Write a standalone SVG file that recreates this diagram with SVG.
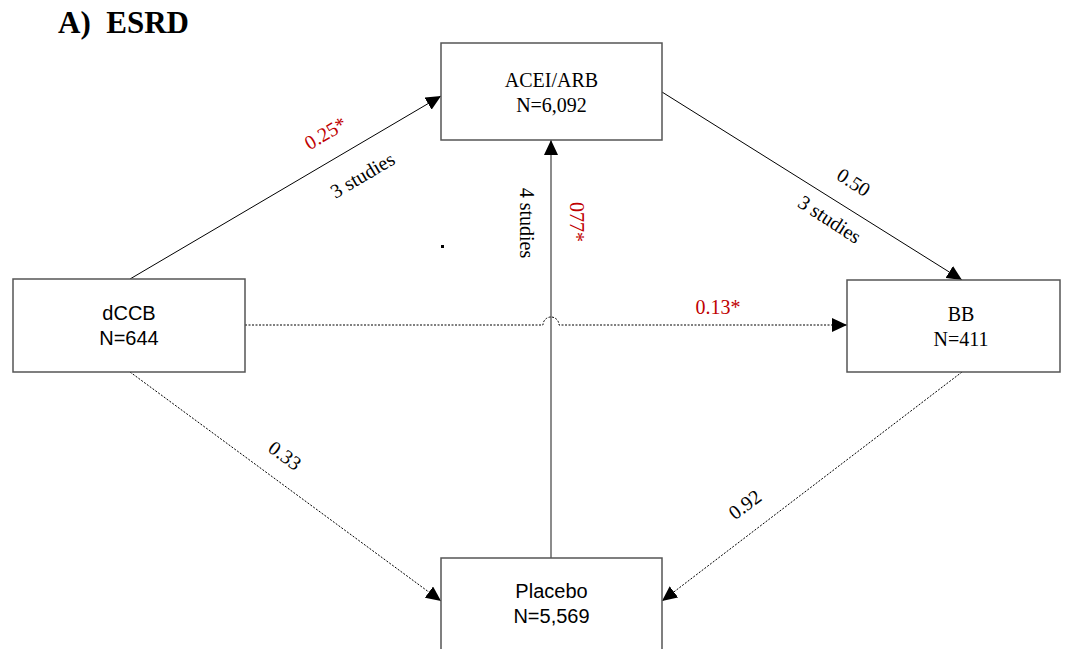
<svg xmlns="http://www.w3.org/2000/svg" width="1072" height="649" viewBox="0 0 1072 649">
<style>
.box{fill:#fff;stroke:#555;stroke-width:1.5}
.t{font-family:"Liberation Serif",serif;font-size:20px;fill:#000}
.a{font-family:"Liberation Sans",sans-serif;font-size:20px;fill:#000}
.red{fill:#c00000}
.ln{fill:none;stroke:#000;stroke-width:1}
.dash{fill:none;stroke:#000;stroke-width:1;stroke-dasharray:2,1.5}
.gray{fill:none;stroke:#666;stroke-width:1.5}
</style>
<defs>
<marker id="ah" markerWidth="16" markerHeight="14" refX="15" refY="7" orient="auto" markerUnits="userSpaceOnUse">
<path d="M0,0 L15,7 L0,14 Z" fill="#000"/>
</marker>
</defs>
<rect width="1072" height="649" fill="#fff"/>
<text x="58" y="33" font-family="Liberation Serif,serif" font-weight="bold" font-size="31" xml:space="preserve">A)  ESRD</text>
<g id="connectors">
<line class="ln" x1="130" y1="279" x2="441" y2="96" marker-end="url(#ah)"/>
<line class="ln" x1="662" y1="92" x2="962" y2="280" marker-end="url(#ah)"/>
<line class="gray" x1="551" y1="558" x2="551" y2="140" marker-end="url(#ah)"/>
<path class="dash" d="M245,325 H543 A8,8 0 0 1 559,325 H847" marker-end="url(#ah)"/>
<line class="dash" x1="130" y1="372" x2="441" y2="601" marker-end="url(#ah)"/>
<line class="dash" x1="962" y1="372" x2="662" y2="601" marker-end="url(#ah)"/>
<rect x="441" y="245" width="3" height="3" fill="#000"/>
<text class="t red" transform="translate(329,139) rotate(-30.5)" text-anchor="middle">0.25*</text>
<text class="t" transform="translate(366,181) rotate(-30.5)" text-anchor="middle">3 studies</text>
<text class="t" transform="translate(850,188) rotate(33)" text-anchor="middle">0.50</text>
<text class="t" transform="translate(826,225) rotate(33)" text-anchor="middle">3 studies</text>
<text class="t" transform="translate(520,223) rotate(90)" text-anchor="middle">4 studies</text>
<text class="t red" transform="translate(570,222) rotate(90)" text-anchor="middle">077*</text>
<text class="t red" x="718" y="314" text-anchor="middle">0.13*</text>
<text class="t" transform="translate(281,461) rotate(36)" text-anchor="middle">0.33</text>
<text class="t" transform="translate(749,510) rotate(-37)" text-anchor="middle">0.92</text>
</g>
<g id="acei">
<rect class="box" x="441" y="43" width="221" height="97"/>
<text class="t" x="551.5" y="87" text-anchor="middle">ACEI/ARB</text>
<text class="t" x="551.5" y="112" text-anchor="middle">N=6,092</text>
</g>
<g id="dccb">
<rect class="box" x="13" y="279" width="232" height="93"/>
<text class="a" x="129" y="320" text-anchor="middle">dCCB</text>
<text class="a" x="129" y="345" text-anchor="middle">N=644</text>
</g>
<g id="bb">
<rect class="box" x="847" y="280" width="213" height="92"/>
<text class="t" x="961" y="321" text-anchor="middle">BB</text>
<text class="t" x="961" y="346" text-anchor="middle">N=411</text>
</g>
<g id="placebo">
<rect class="box" x="441" y="558" width="221" height="100"/>
<text class="a" x="551.5" y="598" text-anchor="middle">Placebo</text>
<text class="a" x="551.5" y="623" text-anchor="middle">N=5,569</text>
</g>
</svg>
